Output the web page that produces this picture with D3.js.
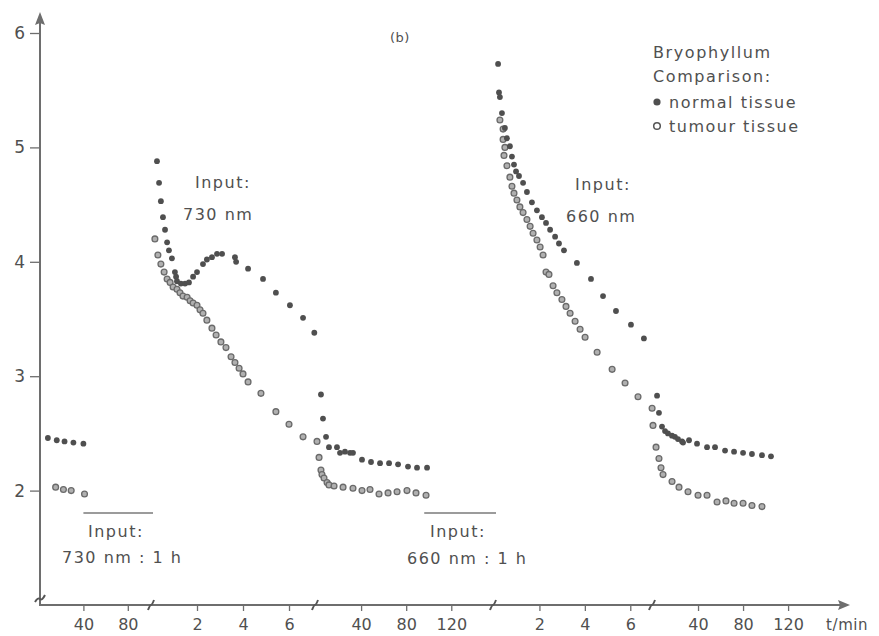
<!DOCTYPE html>
<html><head><meta charset="utf-8">
<script src="https://cdn.jsdelivr.net/npm/d3@7"></script>
<style>
body{margin:0;background:#fff}
svg{display:block}
text{font-family:"DejaVu Sans",sans-serif;fill:#505050}
</style>
</head><body>
<svg id="c" width="879" height="636"></svg>
<script>
// ---------- data: [t (min within segment), value] ----------
const normal1 = [[8,2.46],[16,2.44],[23,2.43],[31,2.42],[40,2.41]];
const tumour1 = [[15,2.03],[22,2.01],[29,2.00],[41,1.97]];

const normal2 = [[0.26,4.88],[0.35,4.69],[0.43,4.53],[0.52,4.39],[0.61,4.28],[0.70,4.17],[0.78,4.10],[0.91,4.03],
  [1.04,3.91],[1.09,3.87],[1.13,3.83],[1.30,3.81],[1.48,3.81],[1.65,3.82],[1.83,3.87],[2.00,3.91],[2.26,3.98],
  [2.43,4.02],[2.65,4.04],[2.87,4.07],[3.09,4.07],[3.65,4.04],[3.70,4.00],[4.22,3.94],[4.87,3.85],[5.43,3.73],
  [6.04,3.62],[6.61,3.51],[7.10,3.38]];
const tumour2 = [[0.17,4.20],[0.30,4.06],[0.43,3.98],[0.57,3.91],[0.70,3.85],[0.83,3.82],[0.96,3.78],[1.13,3.76],
  [1.26,3.73],[1.39,3.70],[1.57,3.69],[1.70,3.66],[1.83,3.64],[2.00,3.62],[2.13,3.58],[2.26,3.55],[2.43,3.49],
  [2.65,3.42],[2.83,3.36],[3.04,3.30],[3.26,3.25],[3.48,3.17],[3.65,3.12],[3.83,3.07],[4.00,3.02],[4.22,2.95],
  [4.78,2.85],[5.43,2.69],[6.00,2.58],[6.61,2.47]];

const normal3 = [[4.4,2.84],[6.2,2.63],[8.9,2.47],[11.5,2.38],[18.6,2.38],[21.3,2.33],[25.7,2.34],[30.2,2.33],
  [32.8,2.33],[40.8,2.27],[48.8,2.25],[56.8,2.24],[64.8,2.24],[72.8,2.23],[81.6,2.21],[89.6,2.20],[98.5,2.20]];
const tumour3 = [[0.9,2.43],[2.7,2.29],[4.4,2.18],[5.3,2.14],[7.1,2.11],[9.8,2.07],[11.5,2.05],[16.0,2.04],
  [24.0,2.03],[32.8,2.02],[40.8,2.00],[47.9,2.01],[55.9,1.97],[63.9,1.98],[71.9,1.99],[80.7,2.00],[88.7,1.98],[97.6,1.96]];

const normal4 = [[0.18,5.73],[0.22,5.48],[0.26,5.44],[0.35,5.30],[0.48,5.17],[0.57,5.08],[0.70,5.01],[0.79,4.92],
  [0.88,4.85],[0.97,4.79],[1.10,4.75],[1.28,4.69],[1.45,4.61],[1.67,4.52],[1.89,4.45],[2.11,4.39],[2.29,4.34],
  [2.47,4.28],[2.69,4.22],[2.86,4.16],[3.08,4.10],[3.65,3.99],[4.27,3.85],[4.80,3.70],[5.37,3.57],[6.03,3.45],[6.60,3.33]];
const tumour4 = [[0.26,5.24],[0.40,5.16],[0.40,5.07],[0.48,5.00],[0.44,4.93],[0.57,4.84],[0.70,4.74],[0.79,4.66],
  [0.88,4.60],[1.01,4.54],[1.14,4.48],[1.28,4.43],[1.45,4.37],[1.59,4.31],[1.72,4.25],[1.89,4.19],[2.03,4.13],
  [2.16,4.06],[2.29,3.91],[2.42,3.89],[2.60,3.79],[2.77,3.73],[2.99,3.67],[3.17,3.61],[3.35,3.55],[3.57,3.48],
  [3.79,3.41],[4.01,3.34],[4.54,3.21],[5.20,3.06],[5.77,2.94],[6.34,2.82],[6.96,2.72]];

const normal5 = [[3.6,2.83],[5.3,2.68],[8.0,2.56],[10.7,2.52],[13.3,2.50],[16.9,2.48],[19.5,2.47],[22.2,2.45],
  [25.8,2.43],[26.7,2.42],[32.0,2.44],[39.1,2.41],[48.0,2.38],[55.1,2.38],[64.0,2.35],[72.0,2.34],[80.0,2.33],
  [87.9,2.32],[96.8,2.31],[104.8,2.30]];
const tumour5 = [[0.0,2.57],[2.7,2.38],[5.3,2.28],[7.1,2.20],[8.9,2.14],[16.9,2.08],[23.1,2.03],[31.1,1.99],
  [40.0,1.96],[48.0,1.96],[56.9,1.90],[64.8,1.91],[72.0,1.89],[80.0,1.89],[87.9,1.87],[96.8,1.86]];

const segDomains = [[0,100],[0,7.13],[0,157],[0,7],[0,175]];
const segTicks = [[40,80],[2,4,6],[40,80,120],[2,4,6],[40,80,120]];
const yTicks = [2,3,4,5,6];
const inputBars = [[0,40,100,"Input:","730 nm : 1 h"],[2,96,157,"Input:","660 nm : 1 h"]];

// ---------- drawing ----------
const svg = d3.select("#c");
const axisColor = "#6e6e6e";
const segRanges = [[39,150],[151,315],[316,493],[494,653],[653,850]];
const xs = segDomains.map((d,i)=>d3.scaleLinear().domain(d).range(segRanges[i]));
const y = d3.scaleLinear().domain([1,6]).range([605,33]);
const axisY = y(1);

// x axis segments (ticks + labels)
xs.forEach((sc,i)=>{
  const g = svg.append("g").attr("transform",`translate(0,${axisY})`)
    .call(d3.axisBottom(sc).tickValues(segTicks[i]).tickSize(6).tickPadding(8).tickFormat(d3.format("d")));
  g.select(".domain").remove();
  g.selectAll("line").attr("stroke",axisColor).attr("stroke-width",1.3);
  g.selectAll("text").attr("font-size",16).attr("font-family","DejaVu Sans").attr("fill","#505050");
});
// x axis line + arrow
svg.append("line").attr("x1",40).attr("x2",842).attr("y1",axisY).attr("y2",axisY)
  .attr("stroke",axisColor).attr("stroke-width",2);
svg.append("path").attr("d",`M850,${axisY} L838,${axisY-5} L840,${axisY} L838,${axisY+5} Z`).attr("fill",axisColor);
svg.append("text").attr("x",826).attr("y",630).attr("font-size",15).attr("letter-spacing",0.6).text("t/min");

// breaks on x axis
[151,315,493,652].forEach(bx=>{
  svg.append("path").attr("d",`M${bx-3},${axisY+5} Q${bx-1},${axisY} ${bx},${axisY} T${bx+3},${axisY-5}`)
    .attr("fill","none").attr("stroke","#555").attr("stroke-width",2);
});

// y axis
const gy = svg.append("g").attr("transform","translate(40,0)")
  .call(d3.axisLeft(y).tickValues(yTicks).tickSize(10).tickPadding(5).tickFormat(d3.format("d")));
gy.select(".domain").remove();
gy.selectAll("line").attr("stroke",axisColor).attr("stroke-width",1.3);
gy.selectAll("text").attr("font-size",17).attr("font-family","DejaVu Sans").attr("fill","#505050");
svg.append("line").attr("x1",40).attr("x2",40).attr("y1",axisY+1).attr("y2",22)
  .attr("stroke",axisColor).attr("stroke-width",2);
svg.append("path").attr("d","M40,12 L35,25 L40,23 L45,25 Z").attr("fill",axisColor);
// y break
svg.append("path").attr("d",`M35,${axisY-3} Q38,${axisY-8} 40,${axisY-6} T45,${axisY-10}`)
  .attr("fill","none").attr("stroke","#555").attr("stroke-width",2);

// points
const segNormal = [normal1,normal2,normal3,normal4,normal5];
const segTumour = [tumour1,tumour2,tumour3,tumour4,tumour5];
segTumour.forEach((arr,i)=>{
  svg.append("g").selectAll("circle").data(arr).join("circle")
    .attr("cx",d=>xs[i](d[0])).attr("cy",d=>y(d[1])).attr("r",2.9)
    .attr("fill","#b0b0b0").attr("stroke","#6a6a6a").attr("stroke-width",1.3);
});
segNormal.forEach((arr,i)=>{
  svg.append("g").selectAll("circle").data(arr).join("circle")
    .attr("cx",d=>xs[i](d[0])).attr("cy",d=>y(d[1])).attr("r",2.9)
    .attr("fill","#4f4f4f");
});

// input bars below the data
inputBars.forEach(b=>{
  const sc = xs[b[0]];
  svg.append("line").attr("x1",sc(b[1])).attr("x2",sc(b[2])+3).attr("y1",513).attr("y2",513)
    .attr("stroke","#7a7a7a").attr("stroke-width",1.3);
});
const T = (x,yy,s,fs=16,ls=1.5)=>svg.append("text").attr("x",x).attr("y",yy).attr("font-size",fs).attr("letter-spacing",ls).text(s);
T(88,537,inputBars[0][3]); T(62,563,inputBars[0][4]);
T(430,537,inputBars[1][3]); T(407,564,inputBars[1][4]);

// in-plot labels
T(195,188,"Input:"); T(183,220,"730 nm");
T(575,190,"Input:"); T(566,222,"660 nm");
T(390,42,"(b)",13,0.5);

// legend
T(653,58,"Bryophyllum",16,1.6);
T(653,82,"Comparison:",16,1.6);
svg.append("circle").attr("cx",657).attr("cy",102).attr("r",3.6).attr("fill","#4f4f4f");
T(669,108,"normal tissue",16,1.5);
svg.append("circle").attr("cx",657).attr("cy",126).attr("r",3.3).attr("fill","#fff").attr("stroke","#555").attr("stroke-width",1.5);
T(669,132,"tumour tissue",16,1.5);
</script>
</body></html>
